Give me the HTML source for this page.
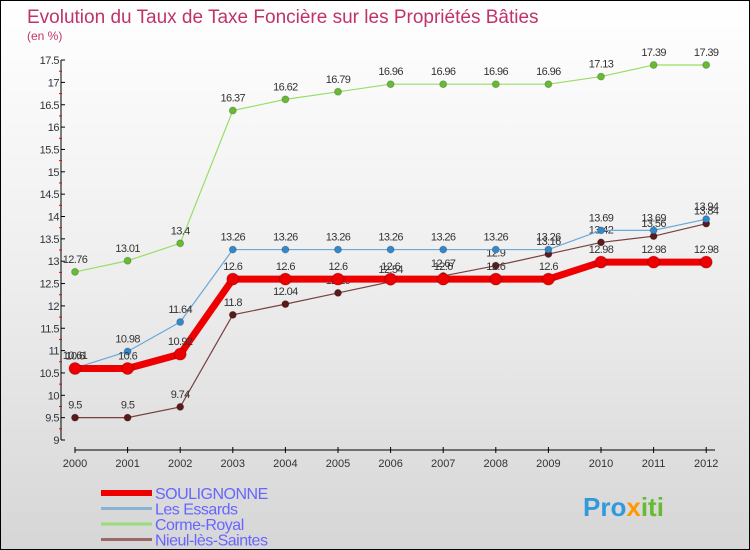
<!DOCTYPE html>
<html><head><meta charset="utf-8"><style>
body{margin:0}
#wrap{width:748px;height:548px;border:1px solid #000;background:linear-gradient(#fff 0%,#eee 50%,#d6d6d6 100%);position:relative;font-family:"Liberation Sans",sans-serif;overflow:hidden}
</style></head><body>
<div id="wrap">
<svg id="c" width="748" height="548" xmlns="http://www.w3.org/2000/svg"></svg>
</div>
<script>
const years=["2000","2001","2002","2003","2004","2005","2006","2007","2008","2009","2010","2011","2012"];
const yTicks=[9,9.5,10,10.5,11,11.5,12,12.5,13,13.5,14,14.5,15,15.5,16,16.5,17,17.5];
const souValues=[10.6,10.6,10.92,12.6,12.6,12.6,12.6,12.6,12.6,12.6,12.98,12.98,12.98];
const essValues=[10.61,10.98,11.64,13.26,13.26,13.26,13.26,13.26,13.26,13.26,13.69,13.69,13.94];
const corValues=[12.76,13.01,13.4,16.37,16.62,16.79,16.96,16.96,16.96,16.96,17.13,17.39,17.39];
const nieValues=[9.5,9.5,9.74,11.8,12.04,12.29,12.54,12.67,12.9,13.16,13.42,13.56,13.84];
const NS="http://www.w3.org/2000/svg";
const svg=document.getElementById('c');
function xS(i){return 74+i*52.6;}
function yS(v){return 439-(v-9)*44.7;}
function mk(t,a,p){const e=document.createElementNS(NS,t);for(const k in a)e.setAttribute(k,a[k]);(p||svg).appendChild(e);return e;}
let t=mk('text',{x:26,y:22,'font-size':19,fill:'#c0336a'});t.textContent='Evolution du Taux de Taxe Foncière sur les Propriétés Bâties';


t=mk('text',{x:26,y:39,'font-size':12,fill:'#c0336a'});t.textContent='(en %)';


// axes
let a=mk('line',{x1:60,y1:yS(17.5),x2:60,y2:yS(9),stroke:'#000'});


a=mk('line',{x1:74,y1:449,x2:714,y2:449,stroke:'#000'});


yTicks.forEach(v=>{
 mk('line',{x1:60,y1:yS(v),x2:64,y2:yS(v),stroke:'#000'});
 if(v<17.5)mk('line',{x1:58,y1:yS(v+0.25),x2:61,y2:yS(v+0.25),stroke:'#e00'});
 const l=mk('text',{x:58,y:yS(v)+4,'font-size':11,fill:'#333','text-anchor':'end','letter-spacing':'-0.5'});l.textContent=String(v);
 
 
});
years.forEach((y,i)=>{
 mk('line',{x1:xS(i),y1:446,x2:xS(i),y2:452,stroke:'#000'});
 const l=mk('text',{x:xS(i),y:466,'font-size':11,fill:'#333','text-anchor':'middle'});l.textContent=y;
 
 
});
function series(vals,color,w,r,name,dot,labelColor){
 const g=mk('g',{});
 
 
 mk('polyline',{points:vals.map((v,i)=>xS(i)+','+yS(v)).join(' '),fill:'none',stroke:color,'stroke-width':w},g);
 vals.forEach((v,i)=>{
  const c=mk('circle',{cx:xS(i),cy:yS(v),r:r,fill:dot,stroke:'#0003'},g);
  
  
  const l=mk('text',{x:xS(i),y:yS(v)-9,'font-size':11,fill:'#333','text-anchor':'middle','letter-spacing':'-0.6'},g);l.textContent=String(v);
  
  
 });
}
series(nieValues,'#7a4040',1.2,3.5,'series-nieul','#5a1a1a');
series(corValues,'#99dd66',1.2,3.5,'series-corme-royal','#66bb33');
series(essValues,'#6aa8d8',1.2,3.5,'series-les-essards','#3388cc');
series(souValues,'#ee0000',7,6,'series-soulignonne','#ee0000');
const legNames=['SOULIGNONNE','Les Essards','Corme-Royal','Nieul-lès-Saintes'];
const legCols=['#ee0000','#88b4d4','#99dd77','#9a6a6a'];
legNames.forEach((n,i)=>{
 const y=492+i*15.5;
 const g=mk('g',{});
 
 
 mk('line',{x1:100,y1:y,x2:151,y2:y,stroke:legCols[i],'stroke-width':i==0?6:3},g);
 const l=mk('text',{x:154,y:y+6,'font-size':16,fill:'#6666ff','letter-spacing':'-0.5'},g);l.textContent=n;
});
t=mk('text',{x:582,y:515,'font-size':26,'font-weight':'bold',fill:'#3399dd'});
t.innerHTML='<tspan fill="#3399dd">Pro</tspan><tspan fill="#ff9900">x</tspan><tspan fill="#66bb33">iti</tspan>';


</script>
</body></html>
